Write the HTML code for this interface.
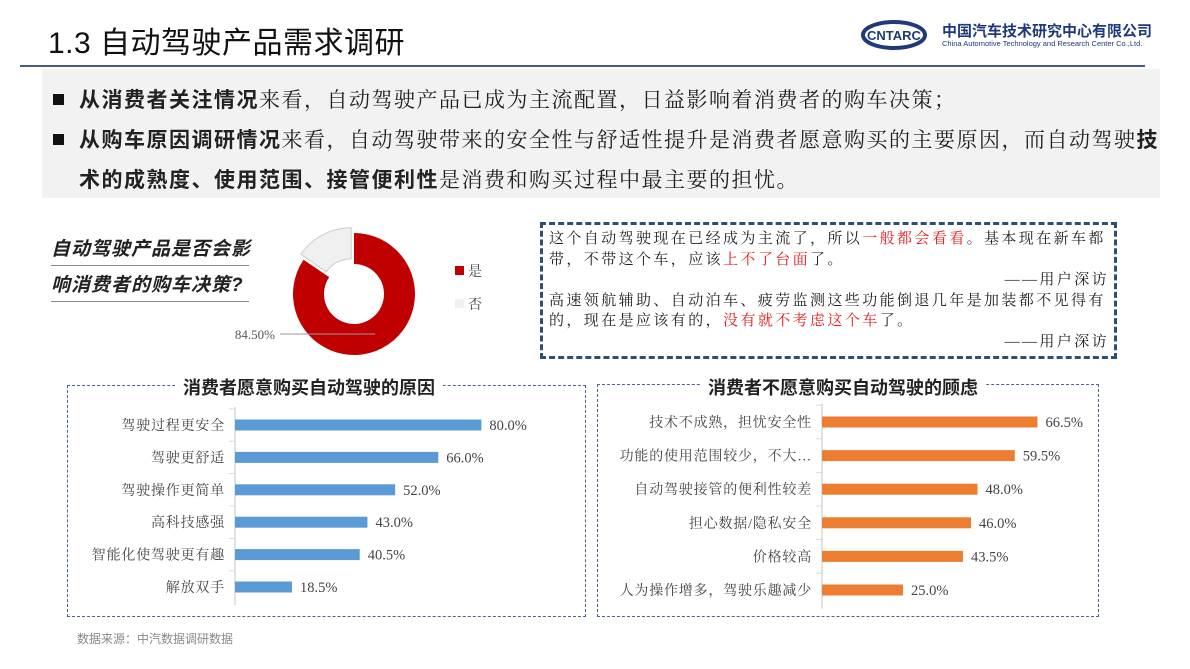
<!DOCTYPE html>
<html><head><meta charset="utf-8">
<style>
body{margin:0;width:1190px;height:669px;background:#fff;position:relative;overflow:hidden;font-family:"Liberation Serif","Noto Serif CJK SC",serif;color:#222}
.a{position:absolute;white-space:nowrap}
.sans{font-family:"Liberation Sans","Noto Sans CJK SC",sans-serif}
b{font-family:"Liberation Sans","Noto Sans CJK SC",sans-serif;font-weight:bold}
.red{color:#e8191c}
.sum{font-size:21px;line-height:30px;letter-spacing:1.5px}
</style></head><body>
<div class="a sans" style="left:48px;top:24px;font-size:30px;line-height:40px;color:#111;letter-spacing:0.5px">1.3 自动驾驶产品需求调研</div>
<div class="a" style="left:20px;top:65px;width:1125px;height:2px;background:#4a5a8a"></div>
<svg class="a" style="left:860px;top:19px" width="70" height="32"><ellipse cx="34" cy="16" rx="31" ry="13" fill="none" stroke="#1e3a7a" stroke-width="4"/><text x="34" y="21" text-anchor="middle" font-family="Liberation Sans" font-size="13" font-weight="bold" fill="#1e3a7a">CNTARC</text></svg>
<div class="a sans" style="left:942px;top:20px;font-size:15px;color:#1e3a7a;font-weight:bold">中国汽车技术研究中心有限公司</div>
<div class="a sans" style="left:942px;top:39px;font-size:7.5px;color:#1e3a7a">China Automotive Technology and Research Center Co.,Ltd.</div>

<div class="a" style="left:42px;top:69px;width:1118px;height:129px;background:#f2f2f2"></div>
<div class="a" style="left:53px;top:94px;width:11px;height:11px;background:#111"></div>
<div class="a sum" style="left:79px;top:85px"><b>从消费者关注情况</b>来看，自动驾驶产品已成为主流配置，日益影响着消费者的购车决策；</div>
<div class="a" style="left:53px;top:134px;width:11px;height:11px;background:#111"></div>
<div class="a sum" style="left:79px;top:125px"><b>从购车原因调研情况</b>来看，自动驾驶带来的安全性与舒适性提升是消费者愿意购买的主要原因，而自动驾驶<b>技</b></div>
<div class="a sum" style="left:79px;top:165px"><b>术的成熟度、使用范围、接管便利性</b>是消费和购买过程中最主要的担忧。</div>

<div class="a sans" style="left:51px;top:234px;font-size:19px;line-height:35px;font-style:italic;font-weight:bold;letter-spacing:1px">
<div style="border-bottom:1.5px solid #888;width:198px;line-height:31px;margin-bottom:4px">自动驾驶产品是否会影</div>
<div style="border-bottom:1.5px solid #888;width:198px;line-height:31px">响消费者的购车决策?</div></div>

<svg class="a" id="donut" style="left:220px;top:220px" width="300" height="150"></svg>

<div class="a" style="left:540px;top:222px;width:571px;height:131px;border:3px dashed #2e4f74"></div>
<div class="a" style="left:549px;top:229px;width:560px;font-size:15px;line-height:20.6px;letter-spacing:2.4px">
<div>这个自动驾驶现在已经成为主流了，所以<span class="red">一般都会看看</span>。基本现在新车都</div>
<div>带，不带这个车，应该<span class="red">上不了台面</span>了。</div>
<div style="text-align:right">——用户深访</div>
<div>高速领航辅助、自动泊车、疲劳监测这些功能倒退几年是加装都不见得有</div>
<div>的，现在是应该有的，<span class="red">没有就不考虑这个车</span>了。</div>
<div style="text-align:right">——用户深访</div></div>

<div class="a" style="left:67px;top:385px;width:517px;height:230px;border:1.5px dashed #4a6294"></div>
<div class="a sans" style="left:175px;top:375px;padding:0 8px;background:#fff;font-size:18px;font-weight:bold;line-height:26px">消费者愿意购买自动驾驶的原因</div>
<div class="a" style="left:597px;top:384px;width:500px;height:231px;border:1.5px dashed #4a6294"></div>
<div class="a sans" style="left:700px;top:375px;padding:0 8px;background:#fff;font-size:18px;font-weight:bold;line-height:26px">消费者不愿意购买自动驾驶的顾虑</div>
<svg class="a" id="bars" style="left:0;top:0" width="1190" height="669"></svg>
<div class="a sans" style="left:77px;top:630px;font-size:12px;color:#888">数据来源：中汽数据调研数据</div>

<script>
const donutLabels=["是","否"];
const donutValues=[84.5,15.5];
const reasonCats=["驾驶过程更安全","驾驶更舒适","驾驶操作更简单","高科技感强","智能化使驾驶更有趣","解放双手"];
const reasonVals=[80.0,66.0,52.0,43.0,40.5,18.5];
const concernCats=["技术不成熟，担忧安全性","功能的使用范围较少，不大…","自动驾驶接管的便利性较差","担心数据/隐私安全","价格较高","人为操作增多，驾驶乐趣减少"];
const concernVals=[66.5,59.5,48.0,46.0,43.5,25.0];
const NS="http://www.w3.org/2000/svg";
function mk(p,t,a){const e=document.createElementNS(NS,t);for(const k in a)e.setAttribute(k,a[k]);p.appendChild(e);return e;}
(function(){
const s=document.getElementById('donut');const cx=134,cy=74,R=61,r=30;
const tot=donutValues.reduce((a,b)=>a+b,0);let ang=0;const cols=["#c00000","#f0f0f0"];
donutValues.forEach((v,i)=>{
 const a0=ang/tot*2*Math.PI,a1=(ang+v)/tot*2*Math.PI;ang+=v;
 const mid=(a0+a1)/2;const off=i==1?6:0;const ox=off*Math.sin(mid),oy=-off*Math.cos(mid);
 const p=(a,rad)=>[cx+ox+rad*Math.sin(a),cy+oy-rad*Math.cos(a)];
 const lg=(a1-a0)>Math.PI?1:0;const [x0,y0]=p(a0,R),[x1,y1]=p(a1,R),[x2,y2]=p(a1,r),[x3,y3]=p(a0,r);
 const e=mk(s,'path',{d:`M${x0},${y0}A${R},${R} 0 ${lg} 1 ${x1},${y1}L${x2},${y2}A${r},${r} 0 ${lg} 0 ${x3},${y3}Z`,fill:cols[i],stroke:i==1?'#ccc':'none'});
 
 
 const lr=mk(s,'rect',{x:235,y:i==0?46:79,width:9,height:9,fill:cols[i]});
 
 
 const lt=mk(s,'text',{x:248,y:i==0?56:89,'font-size':14,fill:'#444','font-family':'Liberation Serif,Noto Serif CJK SC,serif'});lt.textContent=donutLabels[i];
 
 
});
mk(s,'line',{x1:60,y1:114,x2:155,y2:114,stroke:'#999'});
const t=mk(s,'text',{x:55,y:119,'text-anchor':'end','font-size':13,fill:'#555','font-family':'Liberation Serif,serif'});t.textContent=donutValues[0].toFixed(2)+'%';


})();
function barChart(cats,vals,ax,y0,step,scale,col,pre){
 const s=document.getElementById('bars');
 mk(s,'line',{x1:ax,y1:y0-step/2-2,x2:ax,y2:y0+step*(cats.length-0.5)+2,stroke:'#d9d9d9','stroke-width':1.5});
 cats.forEach((c,i)=>{
  const y=y0+i*step;
  mk(s,'line',{x1:ax-6,y1:y-step/2,x2:ax,y2:y-step/2,stroke:'#d9d9d9'});
  const b=mk(s,'rect',{x:ax,y:y-5.5,width:vals[i]*scale,height:11,fill:col});
  
  
  const l=mk(s,'text',{x:ax-10,y:y+5,'text-anchor':'end','font-size':14,'letter-spacing':0.8,fill:'#444','font-family':'Liberation Serif,Noto Serif CJK SC,serif'});l.textContent=c;
  
  
  const v=mk(s,'text',{x:ax+vals[i]*scale+8,y:y+5,'font-size':14.5,fill:'#444','font-family':'Liberation Serif,serif'});v.textContent=vals[i].toFixed(1)+'%';
  
  
 });
}
barChart(reasonCats,reasonVals,235,425,32.4,3.08,'#5b9bd5','reason');
barChart(concernCats,concernVals,822,422,33.6,3.24,'#ed7d31','concern');
</script>
</body></html>
